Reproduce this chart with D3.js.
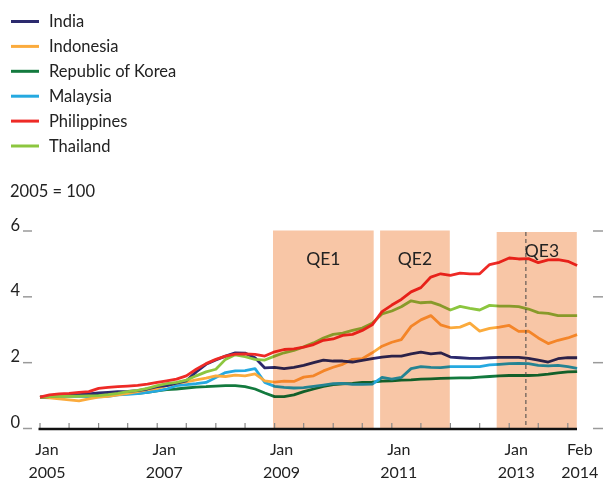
<!DOCTYPE html>
<html>
<head>
<meta charset="utf-8">
<script src="https://cdn.jsdelivr.net/npm/d3@7"></script>
<style>
  body { margin: 0; background: #fff; }
  svg { display: block; font-family: Lato, "Open Sans", sans-serif; }
  .shade { mix-blend-mode: multiply; }
</style>
</head>
<body>
<svg id="viz" width="603" height="479"></svg>
<script>
const WIDTH = 603, HEIGHT = 479;

// data (2005 = 100, shown as index / 100)
const months = [
  "2005-01","2005-03","2005-05","2005-07","2005-09","2005-11",
  "2006-01","2006-03","2006-05","2006-07","2006-09","2006-11",
  "2007-01","2007-03","2007-05","2007-07","2007-09","2007-11",
  "2008-01","2008-03","2008-05","2008-07","2008-09","2008-11",
  "2009-01","2009-03","2009-05","2009-07","2009-09","2009-11",
  "2010-01","2010-03","2010-05","2010-07","2010-09","2010-11",
  "2011-01","2011-03","2011-05","2011-07","2011-09","2011-11",
  "2012-01","2012-03","2012-05","2012-07","2012-09","2012-11",
  "2013-01","2013-03","2013-05","2013-07","2013-09","2013-11",
  "2014-01","2014-02-28"
];

const india = [0.95,0.97,1.0,1.0,1.03,1.05, 1.08,1.1,1.12,1.13,1.15,1.2, 1.27,1.3,1.38,1.45,1.72,1.95,
  2.08,2.2,2.3,2.29,2.15,1.84, 1.86,1.82,1.86,1.92,2.0,2.08, 2.05,2.05,2.02,2.07,2.12,2.17,
  2.2,2.2,2.27,2.32,2.27,2.3, 2.17,2.15,2.13,2.13,2.15,2.16, 2.16,2.16,2.13,2.08,2.02,2.12, 2.15,2.15];
const indonesia = [0.95,0.93,0.9,0.87,0.84,0.9, 0.95,0.98,1.02,1.07,1.12,1.18, 1.22,1.3,1.38,1.42,1.48,1.53,
  1.6,1.58,1.62,1.6,1.66,1.45, 1.41,1.44,1.43,1.56,1.6,1.75, 1.86,1.95,2.1,2.12,2.3,2.5,
  2.62,2.7,3.1,3.3,3.43,3.15, 3.06,3.08,3.2,2.96,3.04,3.08, 3.13,2.95,2.96,2.75,2.58,2.68, 2.75,2.85];
const korea = [0.95,0.97,0.98,0.99,1.0,1.0, 1.02,1.03,1.05,1.06,1.07,1.1, 1.14,1.18,1.2,1.23,1.26,1.27,
  1.29,1.3,1.3,1.27,1.2,1.08, 0.97,0.97,1.02,1.12,1.2,1.28, 1.33,1.36,1.37,1.4,1.41,1.44,
  1.45,1.47,1.48,1.5,1.51,1.52, 1.53,1.54,1.54,1.56,1.58,1.6, 1.61,1.61,1.61,1.62,1.65,1.69, 1.72,1.73];
const malaysia = [0.95,0.97,1.0,0.98,0.98,0.97, 0.96,0.98,1.02,1.04,1.06,1.1, 1.14,1.2,1.3,1.33,1.36,1.4,
  1.55,1.7,1.75,1.76,1.82,1.4, 1.28,1.25,1.23,1.24,1.28,1.32, 1.36,1.37,1.34,1.34,1.35,1.55,
  1.5,1.55,1.82,1.88,1.86,1.85, 1.88,1.88,1.88,1.88,1.93,1.95, 1.97,1.98,1.97,1.92,1.9,1.92, 1.88,1.83];
const philippines = [0.95,1.02,1.05,1.07,1.1,1.12, 1.22,1.25,1.27,1.29,1.31,1.35, 1.4,1.45,1.5,1.6,1.8,1.97,
  2.1,2.2,2.26,2.27,2.25,2.2, 2.33,2.4,2.42,2.47,2.55,2.68, 2.72,2.83,2.86,2.98,3.15,3.55,
  3.75,3.92,4.15,4.28,4.6,4.7, 4.65,4.72,4.7,4.7,4.98,5.05, 5.18,5.15,5.16,5.04,5.12,5.13, 5.08,4.95];
const thailand = [0.95,0.97,0.98,0.98,0.98,0.99, 1.0,1.03,1.07,1.12,1.16,1.22, 1.3,1.36,1.4,1.47,1.6,1.72,
  1.8,2.1,2.24,2.18,2.1,2.08, 2.2,2.3,2.37,2.48,2.6,2.75, 2.86,2.9,2.98,3.05,3.2,3.48,
  3.57,3.7,3.88,3.82,3.84,3.74, 3.6,3.71,3.65,3.6,3.74,3.72, 3.72,3.7,3.63,3.52,3.5,3.43, 3.43,3.43];

const seriesNames = ["India", "Indonesia", "Republic of Korea", "Malaysia", "Philippines", "Thailand"];
const seriesColors = ["#2c2a6e", "#fbab3d", "#137a3e", "#25a9e0", "#ee2a26", "#8cc63f"];
const seriesValues = [india, indonesia, korea, malaysia, philippines, thailand];
const drawOrder = [2, 3, 1, 0, 5, 4];

const qeNames = ["QE1", "QE2", "QE3"];
const qeStart = ["2008-12-22", "2010-10-20", "2012-10-15"];
const qeEnd = ["2010-09-10", "2011-12-28", "2014-02-26"];
const taperDate = "2013-04-15";

const yTicks = [0, 2, 4, 6];
const xTickLabels = [
  ["2005-01-01", "Jan", "2005"],
  ["2007-01-01", "Jan", "2007"],
  ["2009-01-01", "Jan", "2009"],
  ["2011-01-01", "Jan", "2011"],
  ["2013-01-01", "Jan", "2013"],
  ["2014-02-01", "Feb", "2014"]
];

const parse = s => new Date(s.length === 7 ? s + "-01" : s);
const dates = months.map(parse);

const x = d3.scaleTime()
  .domain([new Date("2005-01-01"), new Date("2014-02-21")])
  .range([40, 576]);
const y = d3.scaleLinear().domain([0, 6]).range([428.5, 231]);

const svg = d3.select("#viz");

// legend
const legend = svg.append("g");
seriesNames.forEach((name, i) => {
  const ly = 21.5 + i * 24.9;
  legend.append("line")
    .attr("x1", 11).attr("x2", 39).attr("y1", ly).attr("y2", ly)
    .attr("stroke", seriesColors[i]).attr("stroke-width", 3);
  legend.append("text")
    .attr("x", 49).attr("y", ly + 5.8)
    .attr("font-size", 16.5).attr("fill", "#222")
    .text(name);
});

svg.append("text")
  .attr("x", 10).attr("y", 197)
  .attr("font-size", 16.5).attr("fill", "#222")
  .text("2005 = 100");

// y ticks on both sides
const yAxis = svg.append("g");
yTicks.forEach(t => {
  yAxis.append("text")
    .attr("x", 20).attr("y", y(t) - 0.5)
    .attr("text-anchor", "end")
    .attr("font-size", 16.5).attr("fill", "#222")
    .text(t);
  yAxis.append("line")
    .attr("x1", 23).attr("x2", 32).attr("y1", y(t)).attr("y2", y(t))
    .attr("stroke", "#9a9a9a").attr("stroke-width", 1.5);
  yAxis.append("line")
    .attr("x1", 593).attr("x2", 603).attr("y1", y(t)).attr("y2", y(t))
    .attr("stroke", "#9a9a9a").attr("stroke-width", 1.5);
});

// lines
const line = d3.line()
  .x((d, i) => x(dates[i]))
  .y(d => y(d));

const lines = svg.append("g");
drawOrder.forEach(i => {
  lines.append("path")
    .datum(seriesValues[i])
    .attr("d", line)
    .attr("fill", "none")
    .attr("stroke", seriesColors[i])
    .attr("stroke-width", 2.8)
    .attr("stroke-linejoin", "round");
});

// QE shading, multiplied over the lines
const shades = svg.append("g");
qeNames.forEach((q, i) => {
  const x0 = x(parse(qeStart[i])), x1 = x(parse(qeEnd[i]));
  const top = i === 2 ? 232 : 230.5;
  shades.append("rect")
    .attr("class", "shade")
    .attr("x", x0).attr("y", top)
    .attr("width", x1 - x0).attr("height", y(0) - top)
    .attr("fill", "#f8c6a6");
});

// taper line
svg.append("line")
  .attr("x1", x(parse(taperDate))).attr("x2", x(parse(taperDate)))
  .attr("y1", 232).attr("y2", 428)
  .attr("stroke", "#444").attr("stroke-width", 1)
  .attr("stroke-dasharray", "4,3");

qeNames.forEach((q, i) => {
  const cx = i === 2 ? 542 : (x(parse(qeStart[i])) + x(parse(qeEnd[i]))) / 2;
  svg.append("text")
    .attr("x", cx).attr("y", i === 2 ? 257 : 265)
    .attr("text-anchor", "middle")
    .attr("font-size", 17.5).attr("fill", "#222")
    .text(q);
});

// x axis
const xAxis = svg.append("g");
const tickDates = d3.timeMonth.every(6).range(new Date("2005-01-01"), new Date("2014-01-02"));
tickDates.forEach(d => {
  xAxis.append("line")
    .attr("x1", x(d)).attr("x2", x(d)).attr("y1", 423).attr("y2", 428)
    .attr("stroke", "#8a8a8a").attr("stroke-width", 1.2);
});
xAxis.append("line")
  .attr("x1", 38.5).attr("x2", 577).attr("y1", 429).attr("y2", 429)
  .attr("stroke", "#111").attr("stroke-width", 2.6);

xTickLabels.forEach(([d, m, yr]) => {
  const cx = x(new Date(d)) + 7;
  xAxis.append("text")
    .attr("x", cx).attr("y", 455)
    .attr("text-anchor", "middle").attr("font-size", 16).attr("fill", "#222")
    .text(m);
  xAxis.append("text")
    .attr("x", cx).attr("y", 477.5)
    .attr("text-anchor", "middle").attr("font-size", 16).attr("fill", "#222")
    .text(yr);
});
</script>
</body>
</html>
